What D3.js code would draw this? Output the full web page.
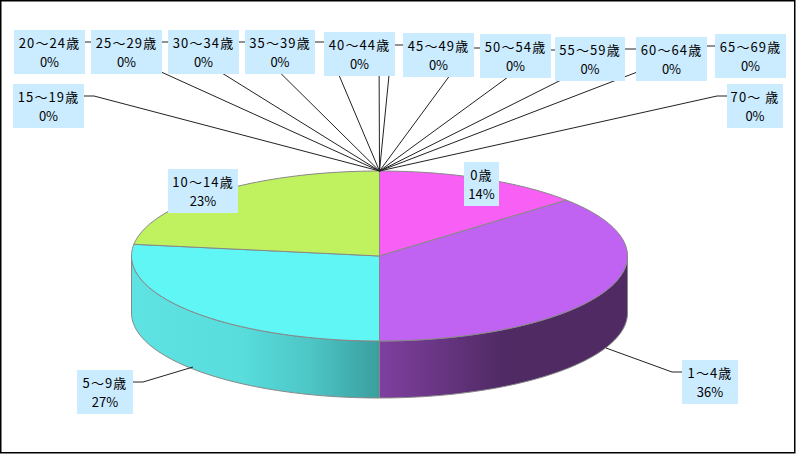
<!DOCTYPE html>
<html><head><meta charset="utf-8">
<script src="https://cdn.jsdelivr.net/npm/d3@7/dist/d3.min.js"></script>
<style>html,body{margin:0;padding:0;background:#fff}svg{display:block}text{font-family:"Noto Sans CJK JP","Noto Sans",sans-serif;font-size:13px;fill:#000}</style>
</head><body><svg id="c" width="796" height="454"></svg>
<script>
const categories=["0歳","1～4歳","5～9歳","10～14歳","15～19歳","20～24歳","25～29歳","30～34歳","35～39歳","40～44歳","45～49歳","50～54歳","55～59歳","60～64歳","65～69歳","70～ 歳"];
const shares=[13.6,36.4,27.2,22.8,0,0,0,0,0,0,0,0,0,0,0,0];
const topColors=["#f75ff5","#c062f2","#60f6f5","#c0f25f"];
// label layout: box x,y,w + elbow
const boxes=[[464,162,35],[682,360,56],[77,370,56],[168,169,70],[13,84,71],[14,30,71],[91,30,71],[168,30,71],[245,30,70],[324,32,71],[403,33,71],[480,34,71],[555,37,70],[636,37,71],[715,34,71],[727,84,56]];
const elbows=[null,[672,372,682],[143,382,133],null,[94,96,84],[95,42,85],[172,42,162],[249,42,239],[325,42,315],[379,44,379],[392,45,403],[470,48,480],[545,50,555],[623,49,636],[705,46,715],[717,96,727]];
const anchors=[null,[606,348],[193,367]];
const wallStops=[null,[[0,"#7f3fa0"],[1,"#4f2a63"]],[[0,"#5ee2e2"],[0.45,"#58dcdc"],[0.72,"#4dc6c6"],[1,"#3a9e9e"]]];
const cx=379.5,cy=256,rx=248,ry=85,depth=57,boxH=44;
const svg=d3.select("#c");
svg.append("rect").attr("x",.75).attr("y",.75).attr("width",794).attr("height",452).attr("fill","#fff").attr("stroke","#000").attr("stroke-width",1.5);
const pie=d3.pie().sort(null).value(d=>d)(shares);
const pt=(a,dy=0)=>[cx+rx*Math.sin(a),cy-ry*Math.cos(a)+dy];
const defs=svg.append("defs");
function arcPts(a0,a1,dy){const n=Math.max(2,Math.ceil((a1-a0)*40));return d3.range(n+1).map(i=>pt(a0+(a1-a0)*i/n,dy));}
const line=d3.line();
[1,2].forEach(i=>{
 const a0=Math.max(pie[i].startAngle,Math.PI/2),a1=Math.min(pie[i].endAngle,1.5*Math.PI);
 const id="w"+i;
 const g=defs.append("linearGradient").attr("id",id).attr("gradientUnits","userSpaceOnUse").attr("y1",0).attr("y2",0);
 if(i==1){g.attr("x1",cx).attr("x2",505);}
 else {g.attr("x1",cx-rx).attr("x2",cx);}
 wallStops[i].forEach(s=>g.append("stop").attr("offset",s[0]).attr("stop-color",s[1]));
 const p=[...arcPts(a0,a1,0),...arcPts(a0,a1,depth).reverse()];
 svg.append("path").attr("d",line(p)+"Z").attr("fill",`url(#${id})`).attr("stroke","#888").attr("stroke-width",1);
});
pie.slice(0,4).forEach((s,i)=>{
 const p=[[cx,cy],...arcPts(s.startAngle,s.endAngle,0)];
 svg.append("path").attr("d",line(p)+"Z").attr("fill",topColors[i]).attr("stroke","#888").attr("stroke-width",1);
});
categories.forEach((c,i)=>{
 const e=elbows[i]; if(!e) return;
 const a=anchors[i]||pt(pie[i].startAngle);
 svg.append("path").attr("d",line([a,[e[0],e[1]],[e[2],e[1]]])).attr("fill","none").attr("stroke","#222").attr("stroke-width",1);
});
categories.forEach((c,i)=>{
 const b=boxes[i];
 svg.append("rect").attr("x",b[0]).attr("y",b[1]).attr("width",b[2]).attr("height",boxH).attr("fill","#cbebff");
 svg.append("text").attr("x",b[0]+b[2]/2).attr("y",b[1]+18).attr("text-anchor","middle").attr("letter-spacing","1.1px").text(c);
 svg.append("text").attr("x",b[0]+b[2]/2).attr("y",b[1]+37).attr("text-anchor","middle").text(Math.round(shares[i])+"%");
});
</script></body></html>
